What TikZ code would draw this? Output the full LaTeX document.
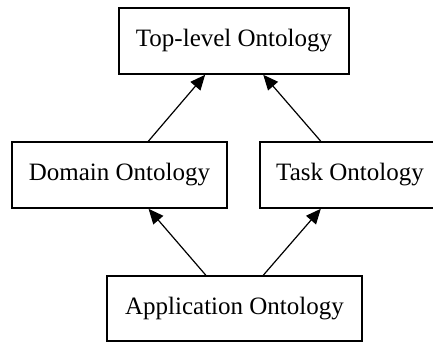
\documentclass[tikz,border=0pt]{standalone}
\usepackage{fontspec}
\setmainfont{Liberation Serif}
\usepackage{tikz}
\usetikzlibrary{arrows.meta, positioning}
\tikzset{
	onto/.style={draw, line width=1.6pt, inner sep=0pt, minimum height=66pt,
		font=\fontsize{25}{30}\selectfont},
	isa/.style={-{Triangle[length=15pt,width=13pt]}, line width=1.2pt}
}

\begin{document}
\begin{tikzpicture}[x=1pt, y=-1pt]
							\useasboundingbox (0,0) rectangle (433,343);
							\node[onto, minimum width=230pt] (top) at (234,41) {Top-level Ontology};
							\node[onto, minimum width=215pt] (domain) at (119.5,175) {Domain Ontology};
							\node[onto, minimum width=180pt] (task) at (350,175) {Task Ontology};
							\node[onto, minimum width=255pt, minimum height=65pt] (app) at (234.5,308.5) {Application Ontology};
							\draw
							(domain) edge[isa] (top)
							(task) edge[isa] (top)
							(app) edge[isa] (domain)
							(app) edge[isa] (task);
						\end{tikzpicture}
\end{document}
